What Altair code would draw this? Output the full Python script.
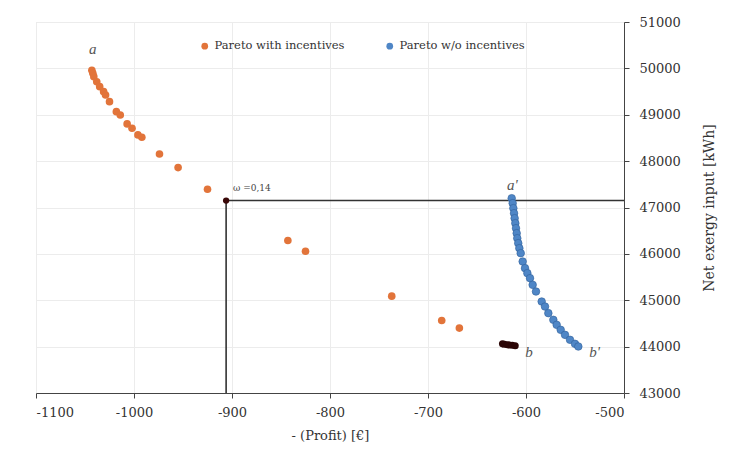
import altair as alt
import pandas as pd

# Pareto with incentives (orange)
inc_x = [-1043, -1042, -1041, -1038, -1035, -1031, -1029, -1025, -1018, -1014,
         -1007, -1002, -996, -992, -974, -955, -925, -843, -825, -737, -686, -668]
inc_y = [49960, 49894, 49821, 49713, 49606, 49498, 49427, 49282, 49067, 48996,
         48802, 48709, 48565, 48515, 48155, 47860, 47394, 46287, 46058, 45088, 44562, 44399]

# dark cluster near b
dark_x = [-624, -622, -619, -617, -614, -611]
dark_y = [44060, 44050, 44040, 44035, 44030, 44020]

# Pareto w/o incentives (blue)
wo_x = [-614.6, -613.6, -612.9, -612.2, -611.6, -610.9, -610.2, -609.5, -608.9, -607.9,
        -606.8, -605.4, -603.4, -601.0, -598.6, -595.9, -593.2, -589.8, -584.0, -580.6,
        -577.2, -572.1, -568.7, -564.6, -560.2, -555.1, -550.0, -546.6]
wo_y = [47200, 47093, 46985, 46877, 46769, 46662, 46554, 46446, 46338, 46231,
        46123, 46015, 45835, 45692, 45584, 45476, 45332, 45188, 44972, 44864,
        44722, 44578, 44470, 44362, 44254, 44147, 44060, 44003]

# selected point omega = 0.14
omega_x = -906
omega_y = 47150

x_ticks = [-1100, -1000, -900, -800, -700, -600, -500]
y_ticks = [43000, 44000, 45000, 46000, 47000, 48000, 49000, 50000, 51000]

series_names = ["Pareto with incentives", "Pareto w/o incentives"]
series_colors = ["#E2743A", "#4F86C6"]

labels_txt = ["a", "a'", "b", "b'"]
labels_x = [-1042, -614, -597, -530]
labels_y = [50420, 47480, 43880, 43880]

df = pd.DataFrame({
    "x": inc_x + wo_x,
    "y": inc_y + wo_y,
    "s": [series_names[0]] * len(inc_x) + [series_names[1]] * len(wo_x),
})
df_dark = pd.DataFrame({"x": dark_x, "y": dark_y})
df_lab = pd.DataFrame({"x": labels_x, "y": labels_y, "t": labels_txt})

FONT = "DejaVu Serif"

xs = alt.Scale(domain=[-1100, -500], nice=False)
ys = alt.Scale(domain=[43000, 51000], nice=False)

x_enc = alt.X("x:Q", scale=xs, title="- (Profit) [€]",
              axis=alt.Axis(values=x_ticks, labelExpr="'' + datum.value",
                            grid=True, gridColor="#ececec", domainColor="#444",
                            tickColor="#444", tickSize=5, labelFont=FONT,
                            labelFontSize=13, labelColor="#333", titleFont=FONT,
                            titleFontSize=13, titleFontWeight="normal",
                            titleColor="#333", titlePadding=10, labelPadding=8))
y_enc = alt.Y("y:Q", scale=ys, title="Net exergy input [kWh]",
              axis=alt.Axis(orient="right", values=y_ticks,
                            labelExpr="'' + datum.value", grid=True,
                            gridColor="#ececec", domainColor="#444",
                            tickColor="#444", tickSize=5, labelFont=FONT,
                            labelFontSize=13, labelColor="#333", titleFont=FONT,
                            titleFontSize=14, titleFontWeight="normal",
                            titleColor="#333", titleAngle=270, titleBaseline="top",
                            titlePadding=22, labelPadding=10))

pts = alt.Chart(df).mark_circle(size=58, opacity=1, stroke="#2f5f9a", strokeWidth=0.6).encode(
    x=x_enc, y=y_enc,
    color=alt.Color("s:N", scale=alt.Scale(domain=series_names, range=series_colors),
                    legend=alt.Legend(title=None, orient="none", direction="horizontal",
                                      legendX=163, legendY=18, labelFont=FONT,
                                      labelFontSize=11.5, labelColor="#333",
                                      symbolType="circle", symbolSize=45,
                                      symbolStrokeWidth=0, columnPadding=39,
                                      labelOffset=4)),
    strokeOpacity=alt.condition(alt.datum.s == series_names[1], alt.value(1), alt.value(0)),
)

dark = alt.Chart(df_dark).mark_circle(size=50, color="#2a0505", opacity=1).encode(
    x=alt.X("x:Q", scale=xs), y=alt.Y("y:Q", scale=ys))

vline = alt.Chart(pd.DataFrame({"x": [omega_x], "y": [43000], "y2": [omega_y]})).mark_rule(
    color="#333", strokeWidth=1.6).encode(
    x=alt.X("x:Q", scale=xs), y=alt.Y("y:Q", scale=ys), y2="y2:Q")
hline = alt.Chart(pd.DataFrame({"x": [omega_x], "x2": [-500], "y": [omega_y]})).mark_rule(
    color="#333", strokeWidth=1.6).encode(
    x=alt.X("x:Q", scale=xs), x2="x2:Q", y=alt.Y("y:Q", scale=ys))

omega_pt = alt.Chart(pd.DataFrame({"x": [omega_x], "y": [omega_y]})).mark_circle(
    size=40, color="#3a0808", opacity=1).encode(
    x=alt.X("x:Q", scale=xs), y=alt.Y("y:Q", scale=ys))

omega_lab = alt.Chart(pd.DataFrame({"x": [omega_x + 7], "y": [omega_y + 280], "t": ["ω =0,14"]})).mark_text(
    font=FONT, fontSize=9, align="left", color="#444").encode(
    x=alt.X("x:Q", scale=xs), y=alt.Y("y:Q", scale=ys), text="t:N")

labs = alt.Chart(df_lab).mark_text(font="Liberation Serif", fontSize=15, fontStyle="italic",
                                   align="center", color="#555").encode(
    x=alt.X("x:Q", scale=xs), y=alt.Y("y:Q", scale=ys), text="t:N")

chart = alt.layer(vline, hline, pts, dark, omega_pt, omega_lab, labs).properties(
    width=588, height=371,
    padding={"left": 28, "top": 14, "right": 99, "bottom": 52},
    autosize=alt.AutoSizeParams(type="none"),
).configure_view(stroke="#444", strokeWidth=1).configure(background="white")

chart.save("out.html", embed_options={"renderer": "svg", "actions": False})
